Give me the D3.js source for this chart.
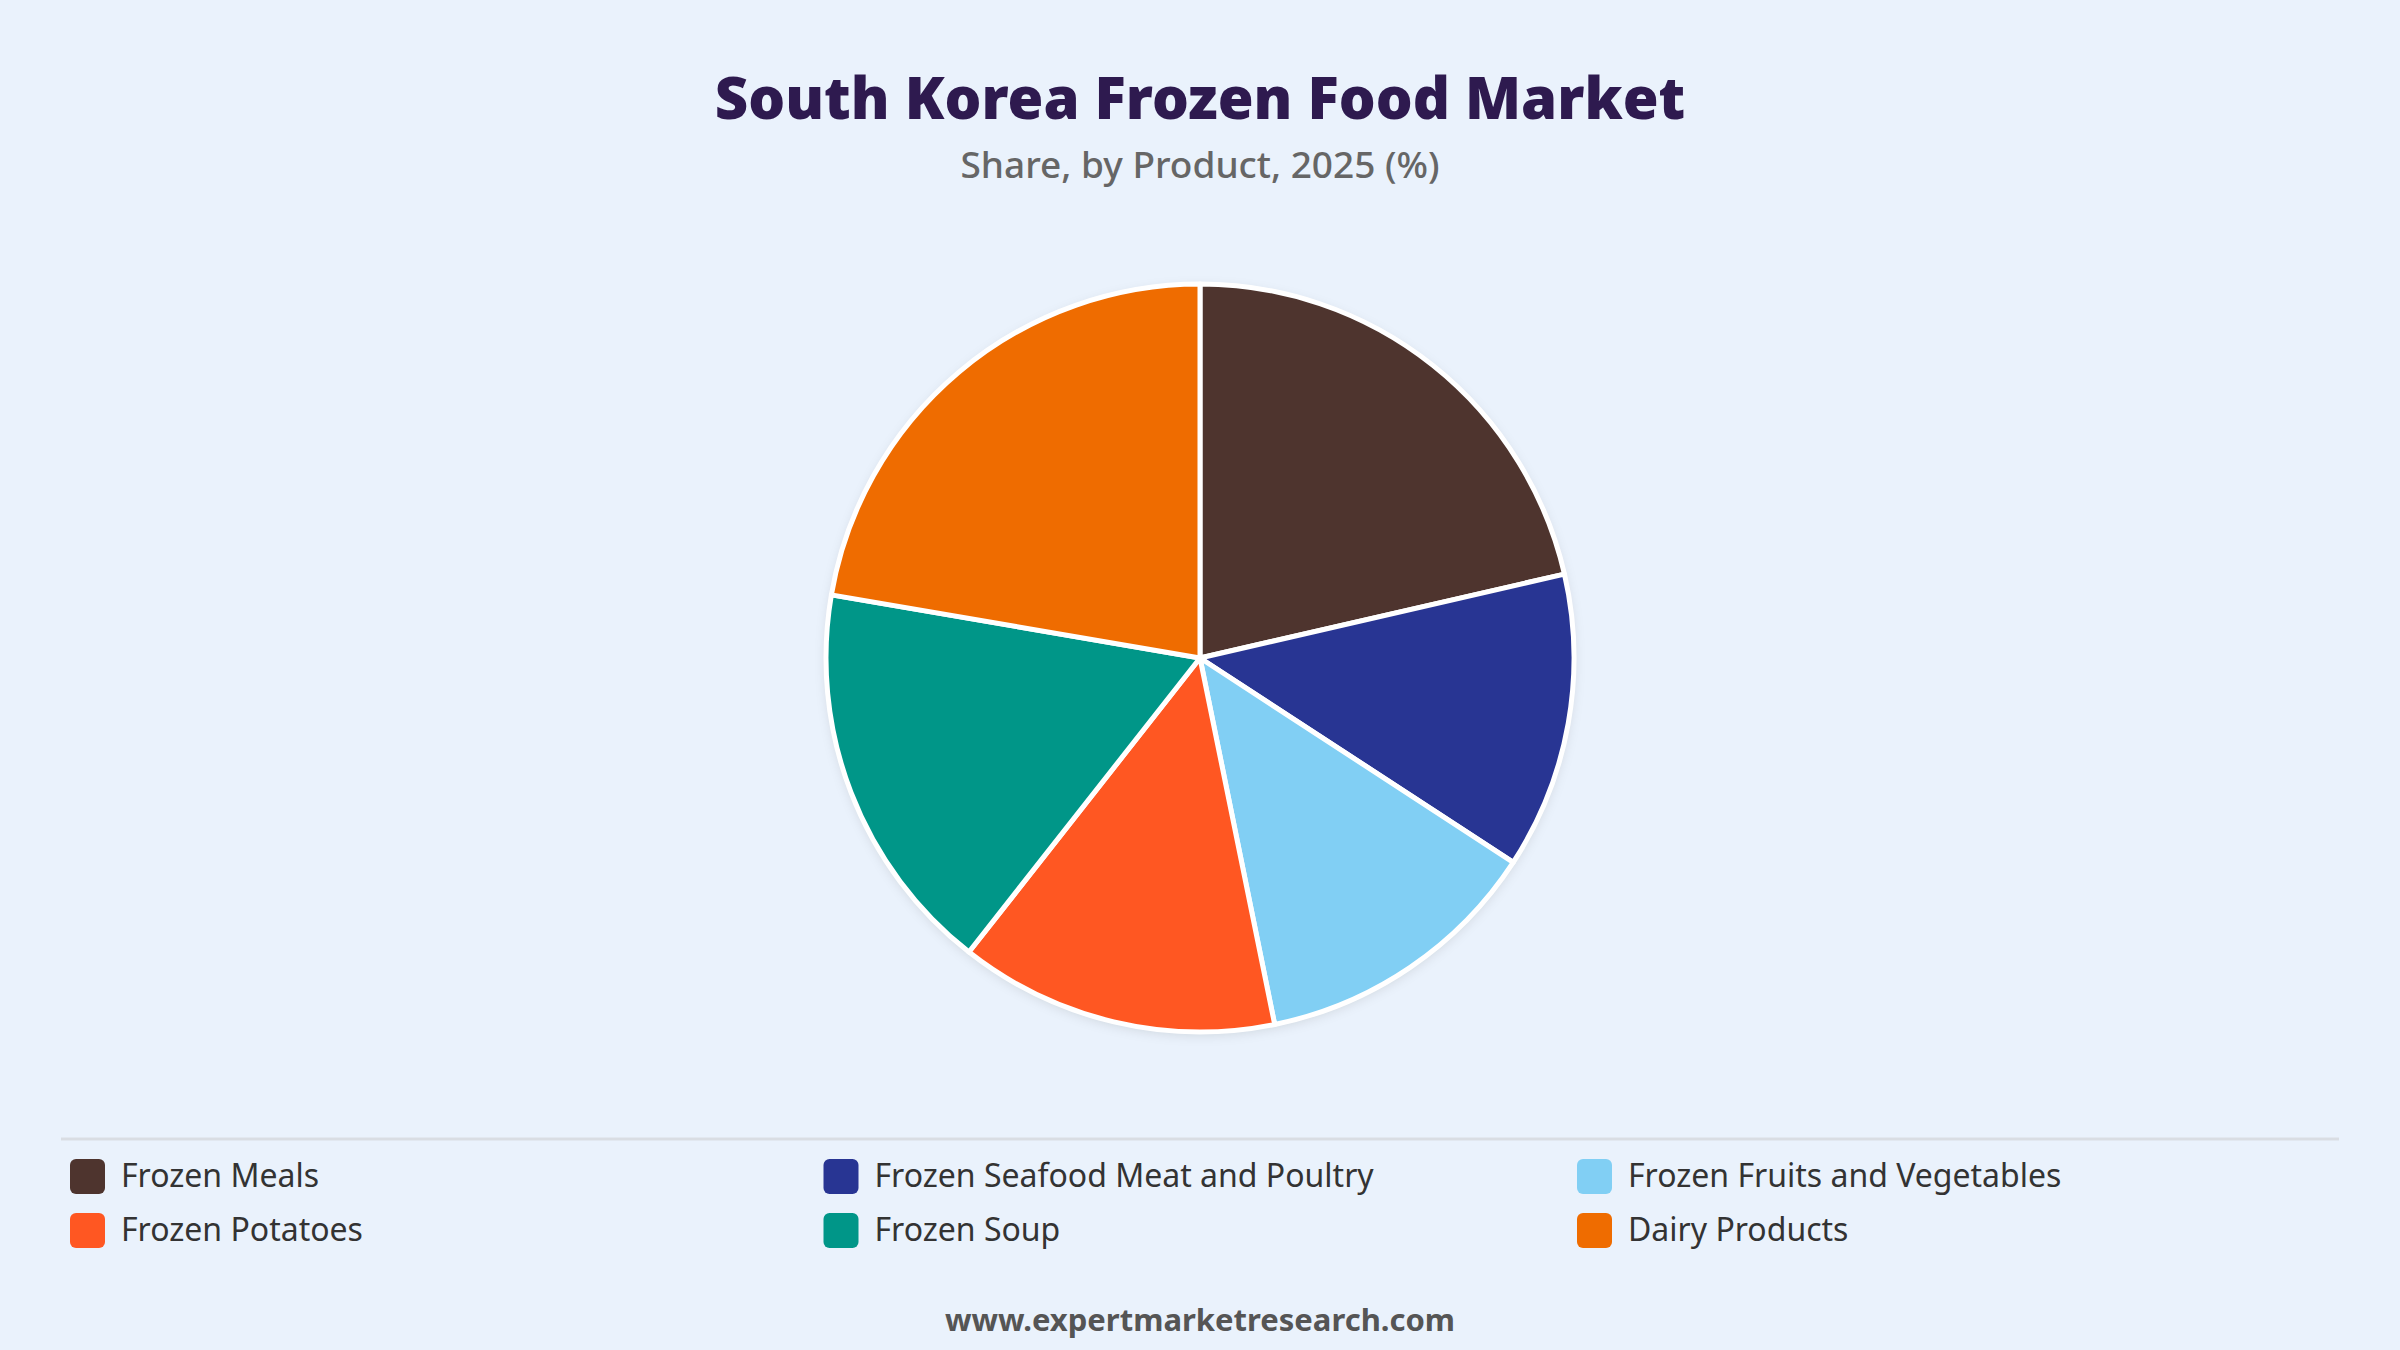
<!DOCTYPE html>
<html>
<head>
<meta charset="utf-8">
<script src="https://cdn.jsdelivr.net/npm/d3@7"></script>
<style>
  html, body { margin: 0; padding: 0; background: #eaf2fc; }
  svg { display: block; }
</style>
</head>
<body>
<div class="chart"></div>
<script>
// data
const categories = ["Frozen Meals", "Frozen Seafood Meat and Poultry", "Frozen Fruits and Vegetables",
                    "Frozen Potatoes", "Frozen Soup", "Dairy Products"];
const shares = [21.4, 12.8, 12.6, 13.8, 17.1, 22.3];
const colours = ["#4e342e", "#283593", "#81cff4", "#ff5722", "#009688", "#ef6c00"];

const width = 2400, height = 1350;
const font = "'Noto Sans', 'Open Sans', sans-serif";

const data = categories.map((c, i) => ({name: c, value: shares[i]}));

const svg = d3.select(".chart")
    .append("svg")
    .attr("width", width)
    .attr("height", height);

svg.append("rect")
    .attr("width", width)
    .attr("height", height)
    .attr("fill", "#eaf2fc");

// shadow for pie
const defs = svg.append("defs");
const filt = defs.append("filter")
    .attr("id", "shadow")
    .attr("x", "-20%").attr("y", "-20%")
    .attr("width", "140%").attr("height", "140%");
filt.append("feDropShadow")
    .attr("dx", 0).attr("dy", 3)
    .attr("stdDeviation", 6)
    .attr("flood-color", "#000")
    .attr("flood-opacity", 0.12);

// titles
svg.append("text")
    .attr("x", width / 2)
    .attr("y", 119)
    .attr("text-anchor", "middle")
    .style("font-family", font)
    .style("font-weight", 900)
    .style("font-size", "58px")
    .attr("fill", "#2e1a4f")
    .text("South Korea Frozen Food Market");

svg.append("text")
    .attr("x", width / 2)
    .attr("y", 178)
    .attr("text-anchor", "middle")
    .style("font-family", font)
    .style("font-weight", 500)
    .style("font-size", "37px")
    .attr("fill", "#666666")
    .text("Share, by Product, 2025 (%)");

// pie
const radius = 374;
const pie = d3.pie()
    .value(d => d.value)
    .sort(null);

const arc = d3.arc()
    .innerRadius(0)
    .outerRadius(radius);

const pieG = svg.append("g")
    .attr("transform", "translate(" + 1200 + "," + 658 + ")");

pieG.append("circle")
    .attr("r", radius)
    .attr("fill", "#ffffff")
    .attr("filter", "url(#shadow)");

pieG.selectAll(".slice")
    .data(pie(data))
    .enter()
    .append("path")
    .attr("class", "slice")
    .attr("d", arc)
    .attr("fill", (d, i) => colours[i])
    .attr("stroke", "#ffffff")
    .attr("stroke-width", 5)
    .attr("stroke-linejoin", "round");

// legend
svg.append("line")
    .attr("x1", 61).attr("x2", 2339)
    .attr("y1", 1139).attr("y2", 1139)
    .attr("stroke", "#d9dde3")
    .attr("stroke-width", 3);

const colX = d3.scalePoint()
    .domain([0, 1, 2])
    .range([70, 1577]);

const rowY = d3.scalePoint()
    .domain([0, 1])
    .range([1176, 1230]);

const legend = svg.selectAll(".legend")
    .data(data)
    .enter()
    .append("g")
    .attr("class", "legend")
    .attr("transform", (d, i) => "translate(" + colX(i % 3) + "," + rowY(Math.floor(i / 3)) + ")");

legend.append("rect")
    .attr("x", 0)
    .attr("y", -17)
    .attr("width", 35)
    .attr("height", 35)
    .attr("rx", 6)
    .attr("fill", (d, i) => colours[i]);

legend.append("text")
    .attr("x", 51)
    .attr("y", 0)
    .attr("dy", "0.35em")
    .style("font-family", font)
    .style("font-size", "32px")
    .attr("fill", "#333333")
    .text(d => d.name);

// footer
svg.append("text")
    .attr("x", width / 2)
    .attr("y", 1331)
    .attr("text-anchor", "middle")
    .style("font-family", font)
    .style("font-weight", 700)
    .style("font-size", "31px")
    .attr("fill", "#555555")
    .text("www.expertmarketresearch.com");
</script>
</body>
</html>
